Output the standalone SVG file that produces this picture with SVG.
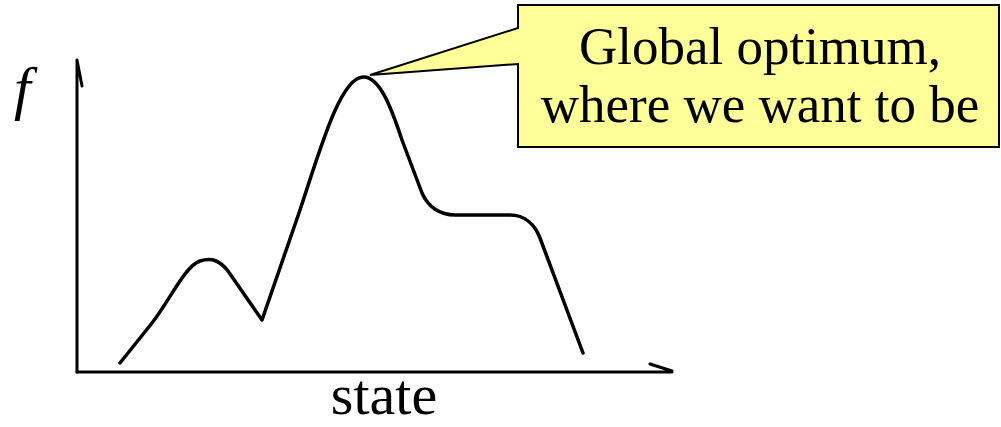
<svg xmlns="http://www.w3.org/2000/svg" width="1001" height="427" viewBox="0 0 1001 427">
<style>
.ax{fill:none;stroke:#000;stroke-width:3;stroke-linecap:round}
.crv{fill:none;stroke:#000;stroke-width:3.5;stroke-linecap:round;stroke-linejoin:round}
.t{font-family:'Liberation Serif','Times New Roman',Times,'DejaVu Serif',serif;fill:#000}
</style>
<rect width="1001" height="427" fill="#fff"/>
<g id="axes">
<path class="ax" d="M77,372 L77,60 M77,60 L82,86"/>
<path class="ax" d="M77,372 L672,372 M650,364 L672,371"/>
<text class="t" x="14" y="108" font-size="60" font-style="italic">f</text>
<text class="t" x="384" y="414" font-size="58" text-anchor="middle">state</text>
</g>
<g id="curve">
<path class="crv" d="M120,363 L152,323 C170,300 185,266 200,261 C212,257 220,261 228,271 L262,320 L300,210 C320,150 340,78 363,77 C380,76 392,110 402,140 L422,193 C428,207 440,215 455,215 L510,215 C525,215 535,225 540,238 L583,353"/>
</g>
<g id="callout">
<path d="M518,5 L999,5 L999,147 L518,147 L518,64 L370,75 L518,28 Z" fill="#FFFF99" stroke="#000" stroke-width="2" stroke-linejoin="miter"/>
<text class="t" x="760" y="64" font-size="53" text-anchor="middle">Global optimum,</text>
<text class="t" x="760" y="122" font-size="53" text-anchor="middle">where we want to be</text>
</g>
</svg>
